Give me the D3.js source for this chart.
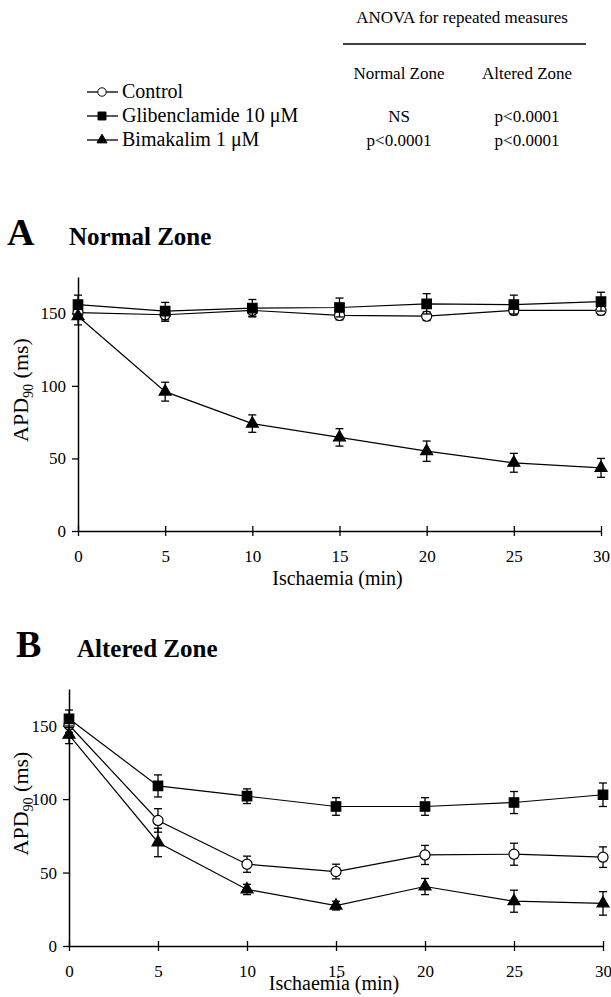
<!DOCTYPE html>
<html>
<head>
<meta charset="utf-8">
<script src="https://cdn.jsdelivr.net/npm/d3@7"></script>
<style>
  body { margin: 0; background: #fff; }
  svg text { font-family: "Liberation Serif", "Times New Roman", serif; fill: #000; }
</style>
</head>
<body>
<div id="chart"></div>
<script>
// ---- data ----
const times = [0, 5, 10, 15, 20, 25, 30];
const seriesNames = ["Control", "Glibenclamide 10 \u03bcM", "Bimakalim 1 \u03bcM"];
const yTicks = [0, 50, 100, 150];

// Normal zone, APD90 (ms)
const normalControl = [150.5, 149, 152, 148.5, 148, 152, 152];
const normalControlErr = [3, 4.5, 4, 3, 3, 3, 3];
const normalGlib = [156, 151.5, 153.5, 154, 156.5, 156, 158];
const normalGlibErr = [6.5, 6, 6, 6.5, 7, 6.5, 6.5];
const normalBima = [148, 96, 74, 64.5, 55, 47, 43.5];
const normalBimaErr = [6, 6.5, 6, 6, 7, 6.5, 6.5];

// Altered zone, APD90 (ms)
const alteredControl = [150.5, 85.5, 55.7, 50.7, 62, 62.5, 60.5];
const alteredControlErr = [5, 8, 5.5, 5, 6.5, 7.5, 7];
const alteredGlib = [154.7, 109, 102, 95, 95, 97.7, 103];
const alteredGlibErr = [6, 7.5, 5, 6, 6, 7.5, 8];
const alteredBima = [143.8, 70.5, 38.5, 27.5, 40.5, 30.5, 29];
const alteredBimaErr = [6, 9.7, 3.5, 3, 5.5, 7.5, 8];

// ANOVA table
const anovaCols = ["Normal Zone", "Altered Zone"];
const anovaGlib = ["NS", "p<0.0001"];
const anovaBima = ["p<0.0001", "p<0.0001"];

const serif = "'Liberation Serif', 'Times New Roman', serif";
const width = 611, height = 997;
const svg = d3.select("#chart").append("svg")
    .attr("width", width)
    .attr("height", height)
    .attr("font-family", serif);

const symbolFor = [
    { type: d3.symbolCircle, size: 80, fill: "#fff" },
    { type: d3.symbolSquare, size: 90, fill: "#000" },
    { type: d3.symbolTriangle, size: 62, fill: "#000" }
];

// ---- legend ----
const legend = svg.append("g");
seriesNames.forEach((name, i) => {
    const y = 92 + i * 24;
    legend.append("line")
        .attr("x1", 87).attr("x2", 118)
        .attr("y1", y).attr("y2", y)
        .attr("stroke", "#000").attr("stroke-width", 1.3);
    legend.append("path")
        .attr("transform", `translate(102,${y})`)
        .attr("d", d3.symbol().type(symbolFor[i].type).size(symbolFor[i].size * 0.7)())
        .attr("fill", symbolFor[i].fill)
        .attr("stroke", "#000").attr("stroke-width", 1);
    legend.append("text")
        .attr("x", 122).attr("y", y + 6)
        .attr("font-size", 20)
        .text(name);
});

// ---- ANOVA table ----
svg.append("text")
    .attr("x", 462).attr("y", 23)
    .attr("text-anchor", "middle")
    .attr("font-size", 17)
    .text("ANOVA for repeated measures");
svg.append("line")
    .attr("x1", 343).attr("x2", 586)
    .attr("y1", 44).attr("y2", 44)
    .attr("stroke", "#000").attr("stroke-width", 1.5);
const colX = [399, 527];
anovaCols.forEach((c, j) => {
    svg.append("text").attr("x", colX[j]).attr("y", 79)
        .attr("text-anchor", "middle").attr("font-size", 17).text(c);
    svg.append("text").attr("x", colX[j]).attr("y", 122)
        .attr("text-anchor", "middle").attr("font-size", 17).text(anovaGlib[j]);
    svg.append("text").attr("x", colX[j]).attr("y", 146)
        .attr("text-anchor", "middle").attr("font-size", 17).text(anovaBima[j]);
});

// ---- panels ----
function drawPanel(opts) {
    const { letter, title, titleY, letterX, titleX, left, right, top, bottom, xLabelGap, series } = opts;

    svg.append("text")
        .attr("x", letterX).attr("y", titleY)
        .attr("font-size", 38).attr("font-weight", "bold")
        .text(letter);
    svg.append("text")
        .attr("x", titleX).attr("y", titleY)
        .attr("font-size", 25).attr("font-weight", "bold")
        .text(title);

    const x = d3.scaleLinear().domain([0, 30]).range([left, right]);
    const y = d3.scaleLinear().domain([0, 175]).range([bottom, top]);

    const g = svg.append("g");

    // x axis, ticks crossing the line
    const xAxis = g.append("g")
        .attr("transform", `translate(0,${bottom})`)
        .call(d3.axisBottom(x).tickValues(times).tickSize(5).tickSizeOuter(0));
    xAxis.attr("font-family", serif).attr("font-size", 17);
    xAxis.selectAll(".tick line").attr("y1", -5);
    xAxis.selectAll(".tick text").attr("y", 31).attr("dy", 0);
    xAxis.select(".domain").attr("stroke-width", 1.5);

    const yAxis = g.append("g")
        .attr("transform", `translate(${left},0)`)
        .call(d3.axisLeft(y).tickValues(yTicks).tickSize(6).tickSizeOuter(0));
    yAxis.attr("font-family", serif).attr("font-size", 17);
    yAxis.selectAll(".tick text").attr("x", -12);
    yAxis.select(".domain").attr("stroke-width", 1.5);
    g.selectAll(".tick line").attr("stroke-width", 1.3);

    g.append("text")
        .attr("x", (left + right) / 2 - 2).attr("y", bottom + xLabelGap)
        .attr("text-anchor", "middle").attr("font-size", 20)
        .text("Ischaemia (min)");

    const ylab = g.append("text")
        .attr("transform", `translate(28,${(top + bottom) / 2 - 14}) rotate(-90)`)
        .attr("text-anchor", "middle").attr("font-size", 22);
    ylab.append("tspan").text("APD");
    ylab.append("tspan").attr("font-size", 14).attr("dy", 5).text("90");
    ylab.append("tspan").attr("dy", -5).text(" (ms)");

    const line = d3.line().x((d, i) => x(times[i])).y(d => y(d));

    series.forEach(s => {
        g.append("path")
            .attr("d", line(s.values))
            .attr("fill", "none")
            .attr("stroke", "#000").attr("stroke-width", 1.2);
    });

    series.forEach((s, k) => {
        const eb = g.append("g").attr("stroke", "#000").attr("stroke-width", 1.3);
        s.values.forEach((v, i) => {
            const cx = x(times[i]);
            const y1 = y(v + s.err[i]), y2 = y(v - s.err[i]);
            eb.append("line").attr("x1", cx).attr("x2", cx).attr("y1", y1).attr("y2", y2);
            eb.append("line").attr("x1", cx - 4).attr("x2", cx + 4).attr("y1", y1).attr("y2", y1);
            eb.append("line").attr("x1", cx - 4).attr("x2", cx + 4).attr("y1", y2).attr("y2", y2);
        });
        g.append("g").selectAll("path")
            .data(s.values)
            .join("path")
            .attr("transform", (d, i) => `translate(${x(times[i])},${y(d)})`)
            .attr("d", d3.symbol().type(symbolFor[k].type).size(symbolFor[k].size)())
            .attr("fill", symbolFor[k].fill)
            .attr("stroke", "#000").attr("stroke-width", 1.2);
    });
}

drawPanel({
    letter: "A", title: "Normal Zone", titleY: 245, letterX: 7, titleX: 69,
    left: 78, right: 601, top: 277, bottom: 531, xLabelGap: 54,
    series: [
        { values: normalControl, err: normalControlErr },
        { values: normalGlib, err: normalGlibErr },
        { values: normalBima, err: normalBimaErr }
    ]
});

drawPanel({
    letter: "B", title: "Altered Zone", titleY: 657, letterX: 16, titleX: 77,
    left: 69, right: 603, top: 689, bottom: 946, xLabelGap: 44,
    series: [
        { values: alteredControl, err: alteredControlErr },
        { values: alteredGlib, err: alteredGlibErr },
        { values: alteredBima, err: alteredBimaErr }
    ]
});
</script>
</body>
</html>
